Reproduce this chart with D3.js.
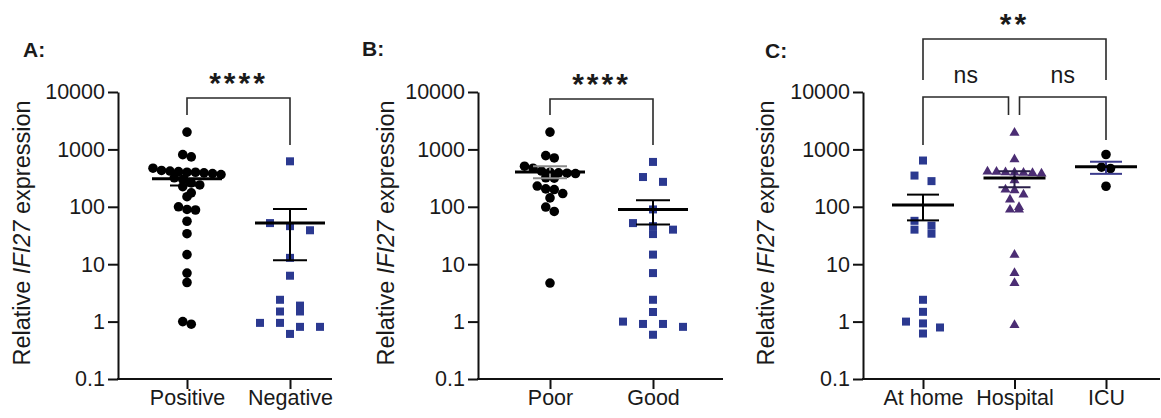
<!DOCTYPE html>
<html>
<head>
<meta charset="utf-8">
<script src="https://cdnjs.cloudflare.com/ajax/libs/d3/7.8.5/d3.min.js"></script>
<style>
  html, body { margin: 0; padding: 0; background: #fff; }
  svg { display: block; }
  text { font-family: "Liberation Sans", Arial, Helvetica, sans-serif; fill: #1a1a1a; }
</style>
</head>
<body>
<svg id="chart" width="1161" height="418"></svg>
<script>
// ---------------- DATA ----------------
const yTickValues = [0.1, 1, 10, 100, 1000, 10000];
const yTickLabels = ["0.1", "1", "10", "100", "1000", "10000"];

// Panel A
const catsA = ["Positive", "Negative"];
const valsPositive = [2000, 810, 740, 470, 430, 420, 410, 400, 400, 390, 380, 365, 320, 300,
  260, 240, 225, 175, 150, 100, 90, 88, 56, 34, 14.7, 7.0, 4.8, 1.0, 0.9];
const valsNegative = [620, 52, 46, 39, 12.9, 6.3, 2.4, 1.9, 1.5, 1.5, 0.95, 0.95, 0.81, 0.81, 0.61];
const meansA = [307, 52];
const semHighA = [380, 92];
const semLowA = [235, 11.7];

// Panel B
const catsB = ["Poor", "Good"];
const valsPoor = [2000, 780, 710, 510, 470, 420, 400, 390, 385, 380, 320, 315, 230, 205, 200,
  170, 143, 99, 83, 4.7];
const valsGood = [605, 330, 272, 90, 52, 46, 40, 33.5, 14.7, 7.0, 2.4, 1.47, 1.0, 0.91, 0.91, 0.81, 0.59];
const meansB = [405, 90];
const semHighB = [510, 130];
const semLowB = [315, 49];

// Panel C
const catsC = ["At home", "Hospital", "ICU"];
const valsHome = [640, 350, 280, 57, 47, 40, 34, 2.4, 1.48, 1.0, 0.93, 0.79, 0.62];
const valsHospital = [1950, 670, 410, 405, 400, 395, 390, 385, 380, 290, 200, 194, 163, 133,
  99, 89, 89, 14.5, 7.0, 4.7, 0.87];
const valsICU = [815, 490, 465, 228];
const meansC = [108, 318, 500];
const semHighC = [163, 415, 610];
const semLowC = [58, 218, 375];

const yTitlePre = "Relative ";
const yTitleGene = "IFI27";
const yTitlePost = " expression";

// ---------------- STYLE / LAYOUT ----------------
const BLACK = "#000000";
const NAVY = "#2b3990";
const PURPLE = "#4b2d73";

const panels = [
  {
    letter: "A:", letterX: 23, letterY: 57,
    axisX0: 118, axisX1: 332, catRange: [187, 290], titleX: 30,
    cats: catsA,
    series: [
      { vals: valsPositive, shape: "circle", color: BLACK, spacing: 8.5 },
      { vals: valsNegative, shape: "square", color: NAVY, spacing: 20 }
    ],
    means: meansA, semHi: semHighA, semLo: semLowA,
    barColors: [BLACK, BLACK], meanHalf: 35, capHalf: 17,
    brackets: [{ from: 0, to: 1, y: 98, legL: 115, legR: 145, label: "****", labelY: 93, stars: true }]
  },
  {
    letter: "B:", letterX: 362, letterY: 56,
    axisX0: 478, axisX1: 723, catRange: [550, 653], titleX: 394,
    cats: catsB,
    series: [
      { vals: valsPoor, shape: "circle", color: BLACK, spacing: 8.5 },
      { vals: valsGood, shape: "square", color: NAVY, spacing: 20 }
    ],
    means: meansB, semHi: semHighB, semLo: semLowB,
    barColors: ["#8a8a8a", BLACK], meanHalf: 35, capHalf: 17,
    brackets: [{ from: 0, to: 1, y: 99, legL: 115, legR: 145, label: "****", labelY: 94, stars: true }]
  },
  {
    letter: "C:", letterX: 765, letterY: 58,
    axisX0: 863, axisX1: 1160, catRange: [923, 1106], titleX: 774,
    cats: catsC,
    series: [
      { vals: valsHome, shape: "square", color: NAVY, spacing: 17 },
      { vals: valsHospital, shape: "triangle", color: PURPLE, spacing: 9 },
      { vals: valsICU, shape: "circle", color: BLACK, spacing: 9 }
    ],
    means: meansC, semHi: semHighC, semLo: semLowC,
    barColors: [BLACK, "#2a1f4a", "#3a3a8c"], meanHalf: 31, capHalf: 16,
    brackets: [
      { from: 0, to: 2, y: 39, legL: 80, legR: 80, label: "**", labelY: 34, stars: true },
      { from: 0, to: 1, y: 97, legL: 145, legR: 115, label: "ns", labelY: 83, stars: false, offR: -6 },
      { from: 1, to: 2, y: 97, legL: 115, legR: 140, label: "ns", labelY: 83, stars: false, offL: 5 }
    ]
  }
];

const svg = d3.select("#chart");
svg.append("rect").attr("width", 1161).attr("height", 418).attr("fill", "#fff");

const y = d3.scaleLog().domain([0.1, 10000]).range([379, 92]);

// GraphPad-like row swarm: group points into rows by pixel y, spread symmetrically
function swarm(vals, spacing, binH) {
  const sorted = vals.slice().sort((a, b) => b - a);
  const rows = [];
  let cur = null;
  sorted.forEach(v => {
    const py = y(v);
    if (cur && py - cur.anchor < binH) cur.items.push(v);
    else { cur = { anchor: py, items: [v] }; rows.push(cur); }
  });
  const out = [];
  rows.forEach(r => {
    const n = r.items.length;
    r.items.forEach((v, i) => out.push({ v, dx: (i - (n - 1) / 2) * spacing }));
  });
  return out;
}

panels.forEach(p => {
  const g = svg.append("g");
  const x = d3.scalePoint().domain(p.cats).range(p.catRange).padding(0);

  // panel letter
  g.append("text").attr("x", p.letterX).attr("y", p.letterY)
    .attr("font-size", 21).attr("font-weight", "bold").text(p.letter);

  // y axis
  const yAxis = d3.axisLeft(y).tickValues(yTickValues)
    .tickFormat((d, i) => yTickLabels[i]).tickSize(10).tickPadding(3).tickSizeOuter(0);
  const ya = g.append("g").attr("transform", `translate(${p.axisX0},0)`).call(yAxis);
  ya.select(".domain").attr("stroke", "#111").attr("stroke-width", 2);
  ya.selectAll(".tick line").attr("stroke", "#111").attr("stroke-width", 2);
  ya.selectAll(".tick text").attr("font-size", 21.5).attr("font-family", null).attr("fill", "#1a1a1a");

  // x axis
  const xAxis = d3.axisBottom(x).tickSize(10).tickPadding(1).tickSizeOuter(0);
  const xa = g.append("g").attr("transform", `translate(0,${y(0.1)})`).call(xAxis);
  xa.select(".domain").remove();
  xa.append("line").attr("x1", p.axisX0 - 1).attr("x2", p.axisX1).attr("y1", 0).attr("y2", 0)
    .attr("stroke", "#111").attr("stroke-width", 2);
  xa.selectAll(".tick line").attr("stroke", "#111").attr("stroke-width", 2);
  xa.selectAll(".tick text").attr("font-size", 21.5).attr("font-family", null).attr("fill", "#1a1a1a");

  // y title
  const t = g.append("text")
    .attr("transform", `translate(${p.titleX},233) rotate(-90)`)
    .attr("text-anchor", "middle").attr("font-size", 23.5);
  t.append("tspan").text(yTitlePre);
  t.append("tspan").attr("font-style", "italic").text(yTitleGene);
  t.append("tspan").text(yTitlePost);

  // points
  p.series.forEach((s, si) => {
    const cx = x(p.cats[si]);
    const pts = swarm(s.vals, s.spacing, 8);
    const sg = g.append("g");
    if (s.shape === "circle") {
      sg.selectAll("circle").data(pts).join("circle")
        .attr("cx", d => cx + d.dx).attr("cy", d => y(d.v)).attr("r", 4.8)
        .attr("fill", s.color);
    } else if (s.shape === "square") {
      sg.selectAll("rect").data(pts).join("rect")
        .attr("x", d => cx + d.dx - 4).attr("y", d => y(d.v) - 4)
        .attr("width", 8).attr("height", 8).attr("fill", s.color);
    } else {
      const sym = d3.symbol().type(d3.symbolTriangle).size(44);
      sg.selectAll("path").data(pts).join("path")
        .attr("transform", d => `translate(${cx + d.dx},${y(d.v)})`)
        .attr("d", sym).attr("fill", s.color);
    }
  });

  // mean and SEM
  p.cats.forEach((c, i) => {
    const cx = x(c);
    const col = p.barColors[i];
    g.append("line").attr("x1", cx).attr("x2", cx)
      .attr("y1", y(p.semHi[i])).attr("y2", y(p.semLo[i]))
      .attr("stroke", col).attr("stroke-width", 2);
    [p.semHi[i], p.semLo[i]].forEach(v => {
      g.append("line").attr("x1", cx - p.capHalf).attr("x2", cx + p.capHalf)
        .attr("y1", y(v)).attr("y2", y(v)).attr("stroke", col).attr("stroke-width", 2);
    });
    g.append("line").attr("x1", cx - p.meanHalf).attr("x2", cx + p.meanHalf)
      .attr("y1", y(p.means[i])).attr("y2", y(p.means[i]))
      .attr("stroke", BLACK).attr("stroke-width", 3);
  });

  // significance brackets
  p.brackets.forEach(b => {
    const xl = x(p.cats[b.from]) + (b.offL || 0);
    const xr = x(p.cats[b.to]) + (b.offR || 0);
    g.append("path")
      .attr("d", `M${xl},${b.legL}V${b.y}H${xr}V${b.legR}`)
      .attr("fill", "none").attr("stroke", "#2a2a2a").attr("stroke-width", 1.6);
    const lbl = g.append("text").attr("x", (xl + xr) / 2).attr("y", b.labelY)
      .attr("text-anchor", "middle").text(b.label);
    if (b.stars) lbl.attr("font-size", 30).attr("font-weight", "bold").attr("letter-spacing", 3);
    else lbl.attr("font-size", 23);
  });
});
</script>
</body>
</html>
